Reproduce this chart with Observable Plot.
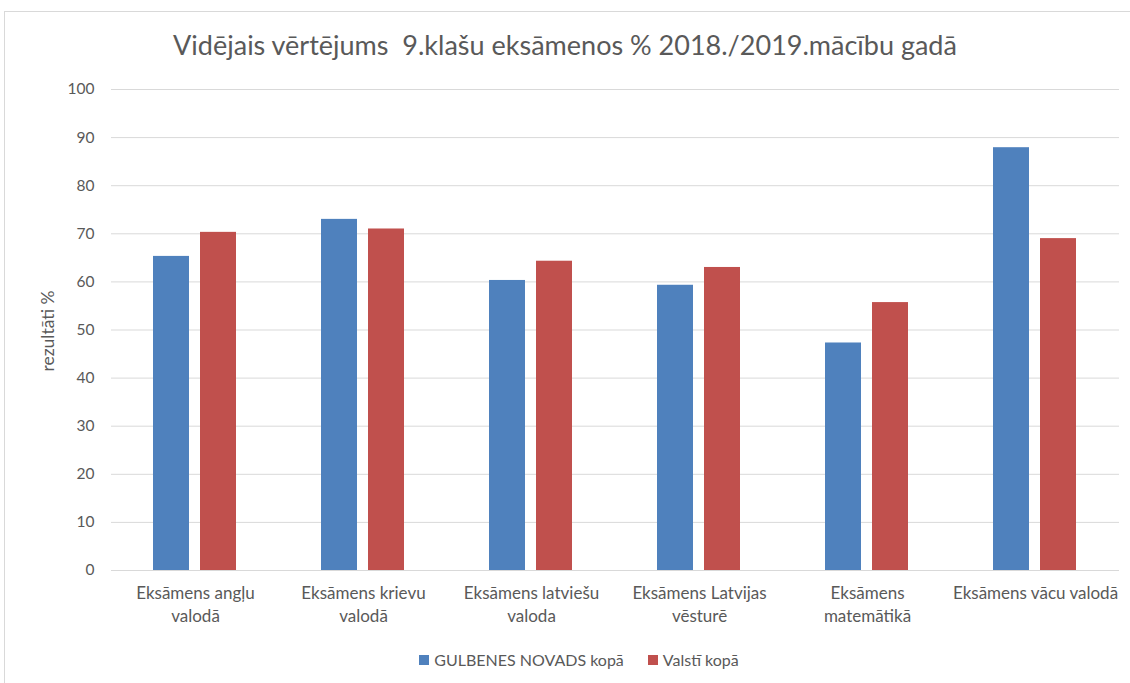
<!DOCTYPE html>
<html>
<head>
<meta charset="utf-8">
<script src="https://cdn.jsdelivr.net/npm/d3@7"></script>
<script src="https://cdn.jsdelivr.net/npm/@observablehq/plot@0.6"></script>
<style>
  html, body { margin: 0; padding: 0; background: #fff; }
  #wrap { position: relative; width: 1130px; height: 683px; overflow: hidden; font-family: Lato, "Open Sans", sans-serif; color: #595959; }
  #frame { position: absolute; left: 4px; top: 11px; width: 1140px; height: 700px; border: 1px solid #d9d9d9; box-sizing: border-box; }
  #title { position: absolute; left: 0; width: 1130px; top: 27px; text-align: center; font-size: 27px; line-height: 36px; white-space: pre; color: #595959; }
  #ylabel { position: absolute; left: 47px; top: 331px; transform: translate(-50%, -50%) rotate(-90deg); font-size: 17.5px; white-space: nowrap; }
  #chart { position: absolute; left: 0; top: 70px; }
  #legend { position: absolute; top: 650px; left: 14px; width: 1130px; display: flex; justify-content: center; gap: 24px; font-size: 16px; line-height: 20px; }
  .item { display: flex; align-items: center; gap: 5px; }
  .sw { width: 10px; height: 10px; display: inline-block; }
</style>
</head>
<body>
<div id="wrap">
  <div id="frame"></div>
  <div id="title"></div>
  <div id="ylabel"></div>
  <div id="chart"></div>
  <div id="legend"></div>
</div>
<script>
const titleText = "Vidējais vērtējums  9.klašu eksāmenos % 2018./2019.mācību gadā";
const yLabel = "rezultāti %";
const categories = ["Eksāmens angļu valodā", "Eksāmens krievu valodā", "Eksāmens latviešu valoda", "Eksāmens Latvijas vēsturē", "Eksāmens matemātikā", "Eksāmens vācu valodā"];
const tickLabels = ["Eksāmens angļu\nvalodā", "Eksāmens krievu\nvalodā", "Eksāmens latviešu\nvaloda", "Eksāmens Latvijas\nvēsturē", "Eksāmens\nmatemātikā", "Eksāmens vācu valodā"];
const seriesNames = ["GULBENES NOVADS kopā", "Valstī kopā"];
const gulbenes = [65.3, 73.0, 60.3, 59.3, 47.3, 87.9];
const valsti = [70.3, 71.0, 64.3, 63.0, 55.7, 69.0];
const seriesColors = ["#4f81bd", "#c0504d"];
const yTicks = [0, 10, 20, 30, 40, 50, 60, 70, 80, 90, 100];

const data = [];
categories.forEach((c, i) => {
  data.push({category: c, series: seriesNames[0], value: gulbenes[i]});
  data.push({category: c, series: seriesNames[1], value: valsti[i]});
});
const fmt = c => tickLabels[categories.indexOf(c)];

document.getElementById("title").textContent = titleText;
document.getElementById("ylabel").textContent = yLabel;

const chart = Plot.plot({
  width: 1130,
  height: 570,
  marginTop: 19,
  marginBottom: 70,
  marginLeft: 109,
  marginRight: 10,
  style: {fontFamily: "Lato, 'Open Sans', sans-serif", fontSize: "15px", color: "#595959", background: "transparent"},
  fx: {domain: categories, padding: 0, label: null, axis: null},
  x: {domain: seriesNames, axis: null, paddingInner: 0.229, paddingOuter: 0.87},
  y: {domain: [0, 100], label: null, axis: null},
  color: {domain: seriesNames, range: seriesColors},
  marks: [
    Plot.gridY(yTicks, {stroke: "#d9d9d9", strokeOpacity: 1, strokeWidth: 1}),
    Plot.barY(data, {fx: "category", x: "series", y: "value", fill: "series"}),
    Plot.axisY(yTicks, {tickSize: 0, tickPadding: 17, label: null, fill: "#595959", fontSize: 15.5}),
    Plot.axisFx({anchor: "bottom", tickSize: 0, tickPadding: 12, lineHeight: 1.37, label: null, tickFormat: fmt, fill: "#595959", fontSize: 17})
  ]
});
document.getElementById("chart").appendChild(chart);

const legend = document.getElementById("legend");
seriesNames.forEach((s, i) => {
  const item = document.createElement("div");
  item.className = "item";
  const sw = document.createElement("span");
  sw.className = "sw";
  sw.style.background = seriesColors[i];
  const t = document.createElement("span");
  t.textContent = s;
  item.appendChild(sw);
  item.appendChild(t);
  legend.appendChild(item);
});
</script>
</body>
</html>
